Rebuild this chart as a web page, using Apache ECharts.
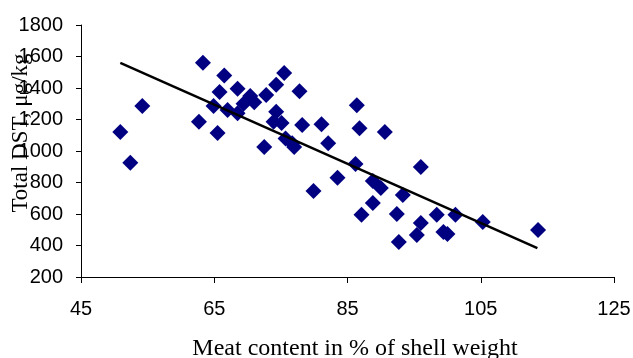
<!DOCTYPE html>
<html>
<head>
<meta charset="utf-8">
<script src="https://cdn.jsdelivr.net/npm/echarts@6/dist/echarts.min.js"></script>
<style>
  html, body { margin: 0; padding: 0; background: #fff; }
  #chart { width: 633px; height: 358px; }
</style>
</head>
<body>
<div id="chart"></div>
<script>
// meat content (%) and total DST (µg/kg)
const meatContent = [
  50.9, 52.4, 54.2, 63.3, 62.7, 65.5, 66.5, 65.8, 64.9, 67.0,
  68.5, 68.5, 69.4, 70.4, 71.0, 72.8, 74.3, 75.5, 77.8, 74.3,
  73.9, 75.1, 72.5, 75.7, 76.7, 77.0, 78.2, 81.1, 86.4, 86.8,
  90.6, 82.1, 86.2, 83.5, 79.9, 88.8, 90.0, 93.3, 88.8, 87.1,
  92.4, 96.0, 96.0, 95.4, 92.7, 98.4, 99.4, 100.0, 101.2, 105.3,
  113.6
];
const totalDst = [
  1120, 925, 1285, 1560, 1185, 1115, 1480, 1375, 1285, 1260,
  1395, 1240, 1300, 1350, 1310, 1355, 1420, 1495, 1380, 1250,
  1185, 1178, 1025, 1080, 1050, 1025, 1165, 1170, 1290, 1145,
  1120, 1050, 917, 830, 746, 810, 765, 720, 670, 595,
  600, 898, 543, 467, 422, 595, 486, 473, 595, 549,
  498
];
// linear trend end points
const trendX = [50.9, 113.5];
const trendY = [1559, 384];
const xTicks = [45, 65, 85, 105, 125];

const points = meatContent.map((x, i) => [x, totalDst[i]]);
const trend = trendX.map((x, i) => [x, trendY[i]]);

const chart = echarts.init(document.getElementById("chart"));
chart.setOption({
  animation: false,
  grid: { left: 81, right: 19, top: 25, bottom: 81, containLabel: false, outerBoundsMode: "none" },
  xAxis: {
    type: "value",
    min: 45,
    max: 125,
    name: "Meat content in % of shell weight",
    nameLocation: "middle",
    nameGap: 60,
    nameMoveOverlap: false,
    nameTextStyle: { fontFamily: "Liberation Serif", fontSize: 24, color: "#000", padding: [0, 0, 0, 15] },
    axisLine: { lineStyle: { color: "#000", width: 1 } },
    axisTick: { show: true, length: 6, customValues: xTicks, lineStyle: { color: "#000" } },
    axisLabel: { customValues: xTicks, margin: 22, fontFamily: "Liberation Sans", fontSize: 20, color: "#000" },
    splitLine: { show: false }
  },
  yAxis: {
    type: "value",
    min: 200,
    max: 1800,
    interval: 200,
    name: "Total DST, μg/kg",
    nameLocation: "middle",
    nameGap: 49,
    nameMoveOverlap: false,
    nameTextStyle: { fontFamily: "Liberation Serif", fontSize: 23, color: "#000", padding: [0, 0, 0, 36] },
    axisLine: { show: true, lineStyle: { color: "#000", width: 1 } },
    axisTick: { show: true, length: 5, lineStyle: { color: "#000" } },
    axisLabel: { margin: 18, fontFamily: "Liberation Sans", fontSize: 20, color: "#000", formatter: (v) => String(v) },
    splitLine: { show: false }
  },
  series: [
    {
      type: "scatter",
      data: points,
      symbol: "path://M0,-1 L1,0 L0,1 L-1,0 Z",
      symbolSize: 16,
      itemStyle: { color: "#000080", opacity: 1 },
      z: 2
    },
    {
      type: "line",
      data: trend,
      showSymbol: false,
      lineStyle: { color: "#000", width: 2.5 },
      z: 3
    }
  ]
});
</script>
</body>
</html>
